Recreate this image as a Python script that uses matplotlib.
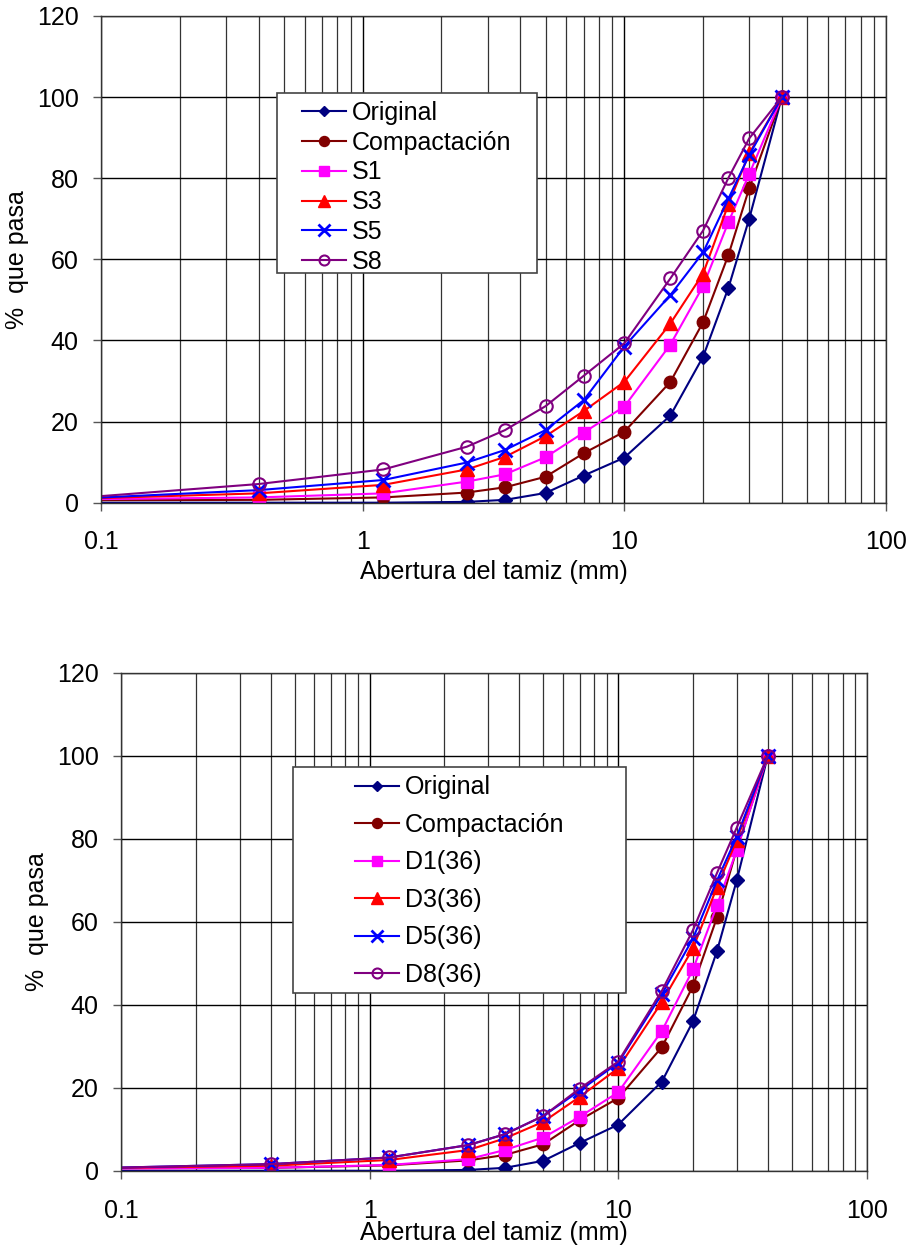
import numpy as np
import matplotlib
matplotlib.use('Agg')
import matplotlib.pyplot as plt
from matplotlib.patches import Rectangle
from matplotlib.ticker import FixedLocator, LogLocator, NullFormatter, FuncFormatter

plt.rcParams['font.family'] = ['Liberation Sans', 'DejaVu Sans']

# abertura del tamiz (mm); el primer punto queda fuera del eje (se recorta)
sizes = [0.075, 0.4, 1.2, 2.5, 3.5, 5, 7, 10, 15, 20, 25, 30, 40]

original = [0.0, 0.0, 0.0, 0.2, 0.7, 2.4, 6.7, 11.1, 21.5, 36.0, 53.0, 70.0, 100]
compact = [0.6, 0.7, 1.3, 2.5, 3.8, 6.4, 12.2, 17.5, 29.8, 44.5, 61.1, 77.5, 100]

s1 = [0.8, 1.3, 2.3, 5.2, 7.0, 11.2, 17.3, 23.7, 39.0, 53.4, 69.2, 81.0, 100]
s3 = [0.9, 2.3, 4.4, 8.2, 11.3, 16.4, 22.6, 29.8, 44.2, 56.5, 73.6, 86.1, 100]
s5 = [0.9, 3.1, 5.6, 9.9, 13.0, 17.9, 25.3, 38.5, 51.2, 61.7, 75.0, 85.7, 100]
s8 = [1.0, 4.6, 8.2, 13.8, 17.9, 23.8, 31.3, 39.3, 55.3, 67.1, 80.1, 89.8, 100]

d1 = [0.5, 0.7, 1.4, 2.8, 5.0, 8.0, 13.0, 18.9, 33.7, 48.5, 64.0, 77.3, 100]
d3 = [0.6, 1.2, 2.6, 5.0, 7.8, 11.8, 17.8, 24.7, 40.7, 53.6, 68.4, 79.7, 100]
d5 = [0.6, 1.6, 3.2, 6.2, 8.8, 13.2, 19.3, 26.0, 42.6, 56.0, 70.0, 80.5, 100]
d8 = [0.6, 1.6, 3.2, 6.2, 8.8, 13.2, 19.8, 26.3, 43.4, 58.0, 71.8, 82.7, 100]

labels_top = ['Original', 'Compactación', 'S1', 'S3', 'S5', 'S8']
labels_bot = ['Original', 'Compactación', 'D1(36)', 'D3(36)', 'D5(36)', 'D8(36)']

# estilos: color, marcador, tamaño, relleno
styles = [
    ('#000080', 'D', 7, True),
    ('#800000', 'o', 9, True),
    ('#FF00FF', 's', 8.5, True),
    ('#FF0000', '^', 10, True),
    ('#0000FF', 'x', 10, True),
    ('#800080', 'o', 9, False),
]

FS = 18


def draw(ax, series, labels, leg_anchor, spacing, box):
    for y, lab, (c, m, ms, filled) in zip(series, labels, styles):
        kw = dict(color=c, marker=m, markersize=ms, lw=1.5, label=lab)
        if m == 'x':
            kw['markeredgewidth'] = 2
        if not filled:
            kw['markerfacecolor'] = 'none'
            kw['markeredgewidth'] = 1.5
        ax.plot(sizes, y, **kw)

    ax.set_xscale('log')
    ax.set_xlim(0.1, 100)
    ax.set_ylim(0, 120)
    ax.yaxis.set_major_locator(FixedLocator(np.arange(0, 121, 20)))
    ax.xaxis.set_major_locator(FixedLocator([0.1, 1, 10, 100]))
    ax.xaxis.set_major_formatter(FuncFormatter(lambda v, p: '%g' % v))
    ax.xaxis.set_minor_locator(LogLocator(base=10, subs=np.arange(2, 10)))
    ax.xaxis.set_minor_formatter(NullFormatter())
    ax.grid(True, which='major', color='black', lw=1.0)
    ax.grid(True, which='minor', axis='x', color='#333333', lw=0.9)
    ax.set_axisbelow(True)
    ax.tick_params(which='major', labelsize=FS, length=6, width=1, color='#555555')
    ax.tick_params(axis='x', which='major', pad=14)
    ax.tick_params(axis='y', which='major', pad=10)
    ax.tick_params(which='minor', length=0)
    for sp in ax.spines.values():
        sp.set_color('#333333')
        sp.set_linewidth(1.0)
    ax.set_ylabel('%  que pasa', fontsize=FS, labelpad=6)

    ax.add_patch(Rectangle(box[:2], box[2], box[3], transform=ax.transAxes,
                           facecolor='white', edgecolor='#444444', lw=1.2,
                           zorder=4, clip_on=False))
    leg = ax.legend(loc='upper left', bbox_to_anchor=leg_anchor, frameon=False,
                    fontsize=FS, borderpad=0, borderaxespad=0, handlelength=1.75,
                    handletextpad=0.25, labelspacing=spacing, markerscale=0.8)
    leg.set_zorder(5)
    return ax


fig = plt.figure(figsize=(9.09, 12.48), dpi=100)

ax1 = fig.add_axes([0.1111, 0.5972, 0.8636, 0.3900])
draw(ax1, [original, compact, s1, s3, s5, s8], labels_top,
     (0.256, 0.826), 0.235, (0.2242, 0.4713, 0.3312, 0.3711))
ax1.set_xlabel('Abertura del tamiz (mm)', fontsize=FS, labelpad=4)

ax2 = fig.add_axes([0.1331, 0.0619, 0.8204, 0.3990])
draw(ax2, [original, compact, d1, d3, d5, d8], labels_bot,
     (0.3138, 0.794), 0.54, (0.2311, 0.3574, 0.4457, 0.4526))
ax2.set_xlabel('Abertura del tamiz (mm)', fontsize=FS, labelpad=-1)

fig.savefig('out.png', dpi=100)
